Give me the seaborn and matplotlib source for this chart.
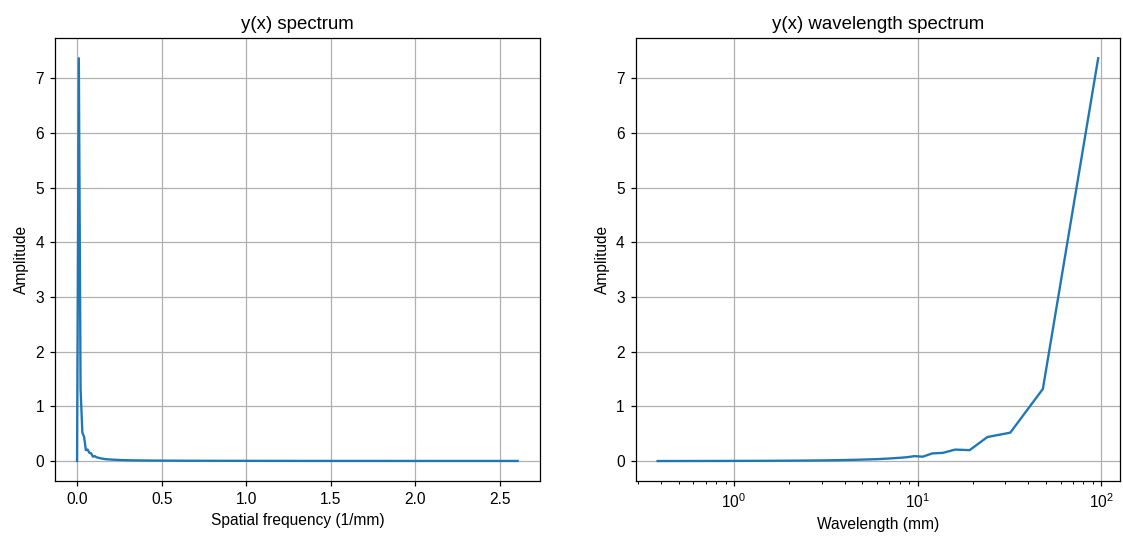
import numpy as np
import pandas as pd
import matplotlib
matplotlib.use("Agg")
import matplotlib.pyplot as plt
import seaborn as sns

plt.rcParams['font.family'] = ['Liberation Sans', 'DejaVu Sans']

# spectrum values (1/mm, amplitude)
freq = [0.0, 0.0104, 0.0208, 0.0313, 0.0417, 0.0521, 0.0625, 0.0729, 0.0833,
        0.0938, 0.1042, 0.1146, 0.125, 0.1458, 0.1667, 0.2083, 0.2604, 0.3333,
        0.4167, 0.5208, 0.6667, 0.8333, 1.0417, 1.3542, 1.7708, 2.1875, 2.6042]
amplitude = [0.0, 7.37, 1.32, 0.52, 0.44, 0.20, 0.21, 0.15, 0.14,
             0.08, 0.09, 0.07, 0.06, 0.045, 0.035, 0.025, 0.018, 0.012,
             0.009, 0.007, 0.005, 0.004, 0.003, 0.002, 0.0015, 0.001, 0.001]

df = pd.DataFrame({"freq": freq, "amp": amplitude})
# wavelength spectrum drops the DC bin
wl = df[df["freq"] > 0].copy()
wl["wavelength"] = 1.0 / wl["freq"]

fig, axes = plt.subplots(1, 2, figsize=(1123 / 112, 537 / 112), dpi=112)
plt.subplots_adjust(left=0.049, right=0.9975, top=0.929, bottom=0.104, wspace=0.198)

ax = axes[0]
sns.lineplot(data=df, x="freq", y="amp", ax=ax, color="#1f77b4", estimator=None)
ax.set_title("y(x) spectrum")
ax.set_xlabel("Spatial frequency (1/mm)")
ax.set_ylabel("Amplitude")
ax.grid(True)

ax = axes[1]
sns.lineplot(data=wl, x="wavelength", y="amp", ax=ax, color="#1f77b4", estimator=None)
ax.set_xscale("log")
ax.set_title("y(x) wavelength spectrum")
ax.set_xlabel("Wavelength (mm)")
ax.set_ylabel("Amplitude")
ax.grid(True)

plt.savefig("out.png", dpi=112)
